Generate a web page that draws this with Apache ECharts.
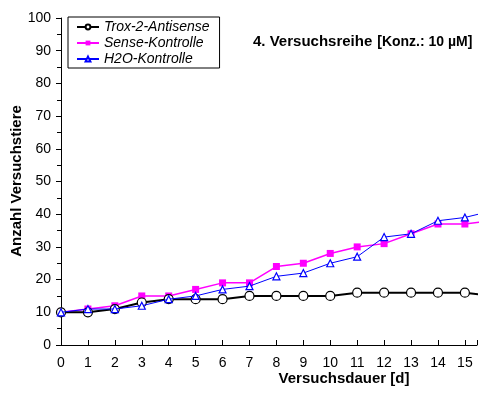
<!DOCTYPE html>
<html>
<head>
<meta charset="utf-8">
<script src="https://cdn.jsdelivr.net/npm/echarts@6/dist/echarts.min.js"></script>
<style>
html,body{margin:0;padding:0;background:#fff;}
#chart{width:480px;height:394px;}
</style>
</head>
<body>
<div id="chart"></div>
<script>
// Versuchsdauer in Tagen
var days  = [0,1,2,3,4,5,6,7,8,9,10,11,12,13,14,15,16];
var trox  = [10,10,11,13,14,14,14,15,15,15,15,16,16,16,16,16,15];
var sense = [10,11,12,15,15,17,19,19,24,25,28,30,31,34,37,37,38];
var h2o   = [10,11,11,12,14,15,17,18,21,22,25,27,33,34,38,39,41];
var names = ['Trox-2-Antisense','Sense-Kontrolle','H2O-Kontrolle'];
// the original figure is cut off just before day 16
var xMax = 15.45;

function pairs(vals){
	return days.map(function(d,i){ return [d, vals[i]]; });
}

var font = '"Liberation Sans", Arial, sans-serif';
var chart = echarts.init(document.getElementById('chart'), null, {renderer:'canvas'});

var option = {
	animation: false,
	backgroundColor: '#fff',
	textStyle: {fontFamily: font},
	title: {
		left: 253,
		top: 33,
		padding: 0,
		text: '{a|4. Versuchsreihe} {b|[Konz.: 10 µM]}',
		textStyle: {
			rich: {
				a: {fontFamily: font, fontWeight: 'bold', fontSize: 15, color: '#000'},
				b: {fontFamily: font, fontWeight: 'bold', fontSize: 14, color: '#000'}
			}
		}
	},
	legend: {
		orient: 'vertical',
		left: 68,
		top: 17,
		padding: [2, 10, 1, 8],
		itemGap: 0,
		itemWidth: 22,
		itemHeight: 6,
		borderColor: '#000',
		borderWidth: 1,
		backgroundColor: '#fff',
		data: names,
		textStyle: {fontFamily: font, fontStyle: 'italic', fontSize: 14, color: '#000', lineHeight: 16}
	},
	grid: {left: 61, right: 0, top: 18, bottom: 49, containLabel: false},
	xAxis: {
		type: 'value',
		min: 0, max: xMax, interval: 1,
		axisLine: {show: true, lineStyle: {color: '#000', width: 1}},
		axisTick: {show: true, inside: true, length: 5, lineStyle: {color: '#000'}},
		axisLabel: {
			fontFamily: font, fontSize: 14, color: '#000', margin: 11,
			formatter: function(v){ return v % 1 === 0 ? String(v) : ''; }
		},
		splitLine: {show: false}
	},
	yAxis: {
		type: 'value',
		min: 0, max: 100, interval: 10,
		axisLine: {show: true, lineStyle: {color: '#000', width: 1}},
		axisTick: {show: true, length: 5, lineStyle: {color: '#000'}},
		minorTick: {show: true, splitNumber: 2, length: 4, lineStyle: {color: '#000'}},
		axisLabel: {fontFamily: font, fontSize: 14, color: '#000', margin: 10},
		splitLine: {show: false}
	},
	graphic: [
		{
			type: 'text', x: 344, y: 379,
			style: {text: 'Versuchsdauer [d]', font: 'bold 15px ' + font, fill: '#000', textAlign: 'center', textVerticalAlign: 'middle'}
		},
		{
			type: 'text', x: 17, y: 181, rotation: Math.PI / 2,
			style: {text: 'Anzahl Versuchstiere', font: 'bold 15px ' + font, fill: '#000', textAlign: 'center', textVerticalAlign: 'middle'}
		}
	],
	series: [
		{
			name: names[0], type: 'line', data: pairs(trox),
			symbol: 'circle', symbolSize: 9, showAllSymbol: true,
			lineStyle: {color: '#000', width: 2},
			itemStyle: {color: '#fff', borderColor: '#000', borderWidth: 1.2},
			z: 3
		},
		{
			name: names[1], type: 'line', data: pairs(sense),
			symbol: 'rect', symbolSize: 7, showAllSymbol: true,
			lineStyle: {color: '#ff00ff', width: 1.5},
			itemStyle: {color: '#ff00ff', borderColor: '#ff00ff', borderWidth: 0},
			z: 2
		},
		{
			name: names[2], type: 'line', data: pairs(h2o),
			symbol: 'triangle', symbolSize: 7, showAllSymbol: true,
			lineStyle: {color: '#0000ff', width: 1},
			itemStyle: {color: '#fff', borderColor: '#0000ff', borderWidth: 1.2},
			z: 4
		}
	]
};
chart.setOption(option);
</script>
</body>
</html>
